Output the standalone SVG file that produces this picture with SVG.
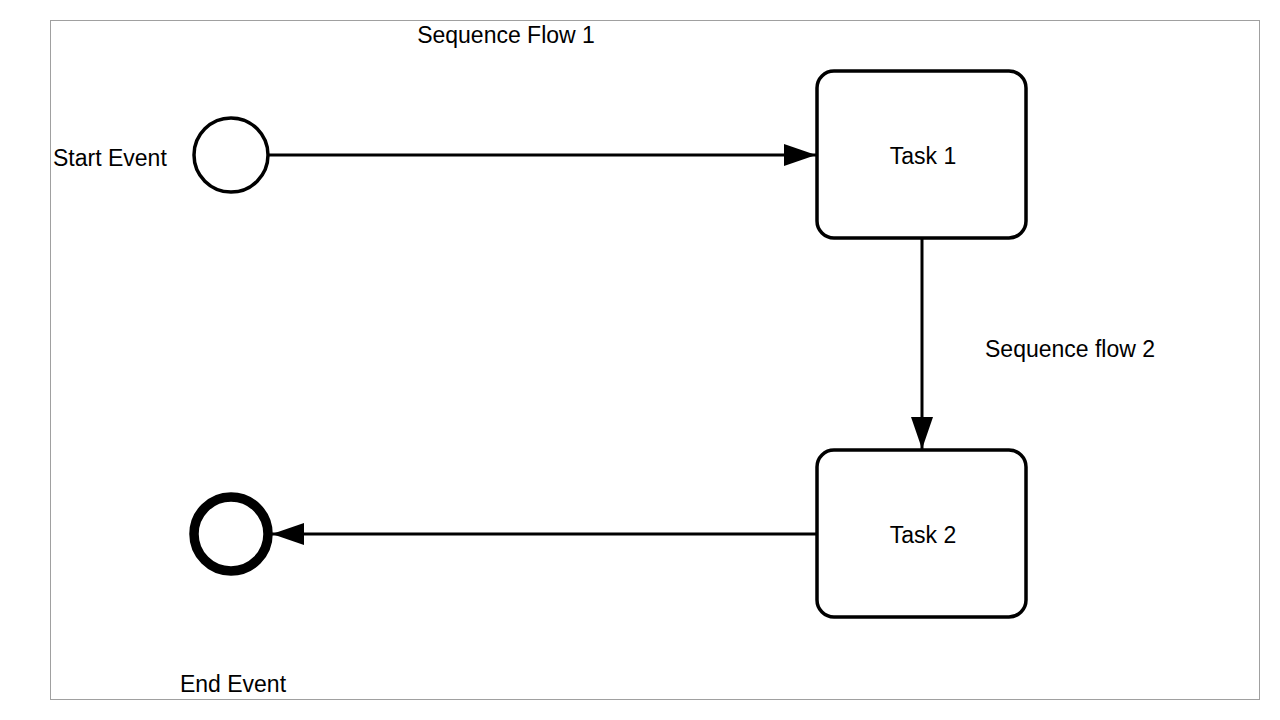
<svg xmlns="http://www.w3.org/2000/svg" width="1280" height="720" viewBox="0 0 1280 720">
<style>
text{font-family:"Liberation Sans",Arial,sans-serif;font-size:23px;fill:#000}
.task{fill:#fff;stroke:#000;stroke-width:3.5}
.flow{fill:none;stroke:#000;stroke-width:3}
</style>
<defs>
<marker id="arr" markerUnits="userSpaceOnUse" markerWidth="34" markerHeight="24" viewBox="0 0 34 24" refX="33" refY="12" orient="auto">
<path d="M1,1 L33,12 L1,23 Z" fill="#000"/>
</marker>
</defs>
<rect x="0" y="0" width="1280" height="720" fill="#fff"/>
<rect x="50.5" y="20.5" width="1209" height="679" fill="none" stroke="#a0a0a0" stroke-width="1"/>
<g id="connectors">
<g id="flow1"><line class="flow" x1="269" y1="155" x2="816" y2="155" marker-end="url(#arr)"/><text x="506" y="43" text-anchor="middle">Sequence Flow 1</text></g>
<g id="flow2"><line class="flow" x1="922" y1="239" x2="922" y2="449" marker-end="url(#arr)"/><text x="985" y="357">Sequence flow 2</text></g>
<g id="flow3"><line class="flow" x1="816" y1="534" x2="272" y2="534" marker-end="url(#arr)"/></g>
</g>
<g id="start"><circle cx="231" cy="155" r="37" fill="#fff" stroke="#000" stroke-width="3.5"/><text x="53" y="166">Start Event</text></g>
<g id="task1"><rect class="task" x="817" y="71" width="209" height="167" rx="17"/><text x="923" y="164" text-anchor="middle">Task 1</text></g>
<g id="task2"><rect class="task" x="817" y="450" width="209" height="167" rx="17"/><text x="923" y="543" text-anchor="middle">Task 2</text></g>
<g id="end"><circle cx="231" cy="534" r="37" fill="#fff" stroke="#000" stroke-width="9.5"/><text x="233" y="692" text-anchor="middle">End Event</text></g>
</svg>
